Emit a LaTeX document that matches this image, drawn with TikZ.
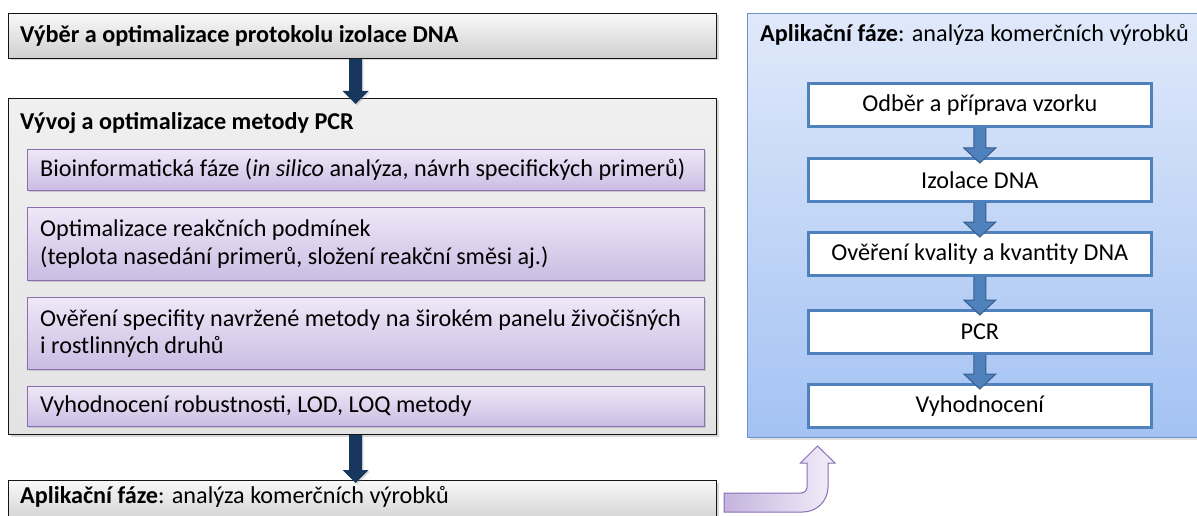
\documentclass[tikz,border=0pt]{standalone}
\usepackage{fontspec}
\setmainfont{Carlito}
\usetikzlibrary{shadows,calc}
\definecolor{navy}{RGB}{23,55,94}
\definecolor{grayline}{RGB}{20,20,20}
\definecolor{purpleline}{RGB}{140,110,180}
\definecolor{purpletop}{RGB}{238,232,247}
\definecolor{purplebot}{RGB}{203,188,227}
\definecolor{bluefill}{RGB}{79,129,189}
\definecolor{blueline}{RGB}{56,93,138}
\definecolor{paneltop}{RGB}{224,233,250}
\definecolor{panelbot}{RGB}{163,194,243}
\definecolor{panelline}{RGB}{112,146,204}
\tikzset{
  base/.style={font=\fontsize{24.2}{27.5}\selectfont},
  graybox/.style={draw=grayline, line width=1pt, top color=gray!5, bottom color=gray!38,
     drop shadow={shadow xshift=2pt, shadow yshift=-2pt, opacity=.3}, anchor=north west, inner sep=0pt},
  bigbox/.style={draw=grayline, line width=1pt, top color=gray!12, bottom color=gray!22,
     drop shadow={shadow xshift=2pt, shadow yshift=-2pt, opacity=.3}, anchor=north west, inner sep=0pt},
  purplebox/.style={draw=purpleline, line width=0.9pt, top color=purpletop, bottom color=purplebot,
     drop shadow={shadow xshift=1.5pt, shadow yshift=-1.5pt, opacity=.3}, anchor=north west,
     inner sep=0pt, minimum width=677pt},
  panel/.style={draw=panelline, line width=1pt, top color=paneltop, bottom color=panelbot,
     drop shadow={shadow xshift=2pt, shadow yshift=-2pt, opacity=.25}, anchor=north west, inner sep=0pt},
  whitebox/.style={base, draw=bluefill, line width=2.6pt, fill=white, anchor=north west,
     minimum width=343pt, minimum height=43pt, inner sep=0pt},
  darkarrow/.style={fill=navy, draw=none, drop shadow={shadow xshift=1.5pt, shadow yshift=-1.5pt, opacity=.25}},
  bluearrow/.style={fill=bluefill, draw=blueline, line width=1pt},
  bentarrow/.style={left color=purplebot!90!purpleline, right color=purpletop!70!white, draw=purpleline, line width=1pt},
  label/.style={base, inner sep=0pt, anchor=west, align=left}
}
\begin{document}
\begin{tikzpicture}[x=1pt,y=-1pt]
\useasboundingbox (0,0) rectangle (1197,516);
\fill[white] (0,0) rectangle (1197,516);

% left column
\node[graybox, minimum width=708pt, minimum height=45pt] (top) at (8,13) {};
\node[label] (toplabel) at ($(top.west)+(12,0)$) {\bfseries Výběr a optimalizace protokolu izolace DNA};
\node[bigbox, minimum width=708pt, minimum height=336pt] (pcr) at (8,98) {};
\node[label, font=\fontsize{24.2}{27.5}\selectfont\bfseries] (pcrtitle) at (20,123)
  {Vývoj a optimalizace metody PCR};
\node[purplebox, minimum height=41pt] (p1) at (27,149) {};
\node[label] (p1label) at ($(p1.west)+(13,0)$)
  {Bioinformatická fáze (\textit{in silico} analýza, návrh specifických primerů)};
\node[purplebox, minimum height=73pt] (p2) at (27,207) {};
\node[label] (p2label) at ($(p2.west)+(13,0)$)
  {Optimalizace reakčních podmínek\\(teplota nasedání primerů, složení reakční směsi aj.)};
\node[purplebox, minimum height=72pt] (p3) at (27,297) {};
\node[label] (p3label) at ($(p3.west)+(13,0)$)
  {Ověření specifity navržené metody na širokém panelu živočišných\\i rostlinných druhů};
\node[purplebox, minimum height=40pt] (p4) at (27,386) {};
\node[label] (p4label) at ($(p4.west)+(13,0)$)
  {Vyhodnocení robustnosti, LOD, LOQ metody};
\node[graybox, minimum width=708pt, minimum height=44pt] (bottom) at (8,480) {};
\node[label] (bottomlabel) at (20,497)
  {\textbf{Aplikační fáze}: analýza komerčních výrobků};

% dark arrows
\coordinate (a1s) at ($(top.south)+(-7,0)$);
\coordinate (a1e) at ($(pcr.north)+(-7,6)$);
\coordinate (a2s) at ($(pcr.south)+(-7,0)$);
\coordinate (a2e) at ($(bottom.north)+(-7,3)$);
\foreach \s/\e in {a1s/a1e, a2s/a2e}{
  \path[darkarrow] let \p1=(\s), \p2=(\e) in
    (\x1-6.5pt,\y1) -- (\x1-6.5pt,\y2+13pt) -- (\x1-13pt,\y2+13pt) -- (\x1,\y2)
    -- (\x1+13pt,\y2+13pt) -- (\x1+6.5pt,\y2+13pt) -- (\x1+6.5pt,\y1) -- cycle;
}

% right panel
\node[panel, minimum width=470pt, minimum height=424pt] (panel) at (747,13) {};
\node[label] (paneltitle) at (760,35)
  {\textbf{Aplikační fáze}: analýza komerčních výrobků};
\node[whitebox] (w1) at (807,82) {Odběr a příprava vzorku};
\node[whitebox] (w2) at (807,157) {Izolace DNA};
\node[whitebox] (w3) at (807,231) {Ověření kvality a kvantity DNA};
\node[whitebox] (w4) at (807,309) {PCR};
\node[whitebox] (w5) at (807,383) {Vyhodnocení};

\foreach \a/\b in {w1/w2, w2/w3, w3/w4, w4/w5}{
  \draw[bluearrow] let \p1=(\a.south), \p2=($(\b.north)+(0,6)$) in
    (\x1-6pt,\y1) -- (\x1-6pt,\y2+15pt) -- (\x1-16pt,\y2+15pt) -- (\x1,\y2)
    -- (\x1+16pt,\y2+15pt) -- (\x1+6pt,\y2+15pt) -- (\x1+6pt,\y1);
}

% bent arrow from bottom box to panel
\coordinate (bs) at ($(bottom.east)+(7,0)$);
\coordinate (be) at ($(panel.south west)+(70.5,8)$);
\path[bentarrow] let \p1=(bs), \p2=(be) in
  (\x1,\y1+9.5pt) -- (\x2-16.5pt,\y1+9.5pt)
  .. controls (\x2-13.2pt,\y1+9.5pt) and (\x2-10.5pt,\y1+12.2pt) .. (\x2-10.5pt,\y1+15.5pt)
  -- (\x2-10.5pt,\y2-17pt) -- (\x2-17pt,\y2-17pt) -- (\x2,\y2) -- (\x2+17.5pt,\y2-17pt)
  -- (\x2+10.5pt,\y2-17pt) -- (\x2+10.5pt,\y1+15.5pt)
  .. controls (\x2+10.5pt,\y1+1.7pt) and (\x2-0.7pt,\y1-9.5pt) .. (\x2-14.5pt,\y1-9.5pt)
  -- (\x1,\y1-9.5pt) -- cycle;
\end{tikzpicture}
\end{document}
